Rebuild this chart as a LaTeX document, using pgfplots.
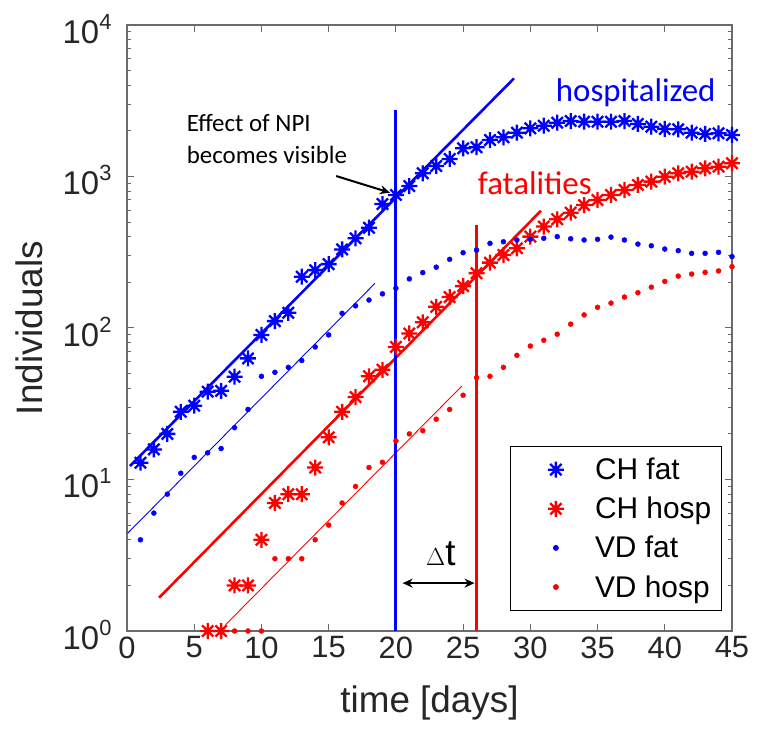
\documentclass[border=0pt]{standalone}
\usepackage{pgfplots}
\pgfplotsset{compat=1.18}
\usepackage{fontspec}
\setmainfont{Liberation Sans}
\newfontfamily\calfont{Carlito}
\usetikzlibrary{arrows.meta}
\definecolor{axgray}{gray}{0.42}
\definecolor{txtgray}{gray}{0.15}
\definecolor{mblue}{rgb}{0,0,1}
\definecolor{mred}{rgb}{1,0,0}
\pgfdeclareplotmark{mast}{%
 \pgfpathmoveto{\pgfqpoint{0pt}{\pgfplotmarksize}}\pgfpathlineto{\pgfqpoint{0pt}{-\pgfplotmarksize}}%
 \pgfpathmoveto{\pgfqpoint{\pgfplotmarksize}{0pt}}\pgfpathlineto{\pgfqpoint{-\pgfplotmarksize}{0pt}}%
 \pgfpathmoveto{\pgfqpoint{0.707\pgfplotmarksize}{0.707\pgfplotmarksize}}\pgfpathlineto{\pgfqpoint{-0.707\pgfplotmarksize}{-0.707\pgfplotmarksize}}%
 \pgfpathmoveto{\pgfqpoint{0.707\pgfplotmarksize}{-0.707\pgfplotmarksize}}\pgfpathlineto{\pgfqpoint{-0.707\pgfplotmarksize}{0.707\pgfplotmarksize}}%
 \pgfusepathqstroke}
\newcommand\tenpow[1]{10\raisebox{14bp}{\fontsize{22}{22}\selectfont #1}}
\pgfplotsset{myleg/.style={legend image code/.code={\path (0bp,0bp) (72bp,0bp);\draw[mark repeat=2,mark phase=2,##1] plot coordinates {(0bp,0bp)(36bp,0bp)(72bp,0bp)};}}}

\pgfplotstableread{
x y
1 12.9
2 15.8
3 20
4 28
5 30.7
6 38
7 38.5
8 47.7
9 63
10 90
11 111
12 126
13 218
14 241
15 264
16 330
17 391
18 459
19 658
20 755
21 865
22 1050
23 1173
24 1305
25 1535
26 1560
27 1741
28 1815
29 1946
30 2080
31 2163
32 2265
33 2324
34 2300
35 2300
36 2300
37 2324
38 2222
39 2133
40 2061
41 2049
42 1946
43 1909
44 1928
45 1879
}\chfat

\pgfplotstableread{
x y
6 1
7 1
8 2
9 2
10 4
11 7
12 8
13 8
14 12
15 19
16 28
17 35
18 48
19 53
20 75
21 92
22 109
23 138
24 160
25 189
26 230
27 270
28 303
29 336
30 401
31 467
32 522
33 577
34 648
35 700
36 755
37 815
38 879
39 925
40 997
41 1050
42 1076
43 1133
44 1161
45 1222
}\chhosp

\pgfplotstableread{
x y
1 4
2 6
3 8
4 11
5 14
6 15
7 16
8 22
9 29
10 48
11 51
12 55
13 61
14 75
15 90
16 125
17 140
18 153
19 168
20 183
21 211
22 232
23 252
24 284
25 314
26 327
27 362
28 371
29 381
30 385
31 391
32 401
33 388
34 381
35 385
36 398
37 381
38 358
39 349
40 332
41 324
42 311
43 311
44 316
45 296
}\vdfat

\pgfplotstableread{
x y
8 1
9 1
10 1
11 3
12 3
13 3
14 4
15 5
16 7
17 9
18 12
19 13
20 18
21 20
22 21
23 25
24 29
25 36
26 47
27 48
28 55
29 66
30 76
31 83
32 91
33 106
34 122
35 137
36 146
37 160
38 171
39 186
40 203
41 220
42 227
43 233
44 238
45 254
}\vdhosp

\begin{document}
\begin{tikzpicture}
\path[use as bounding box] (-127bp,-109bp) rectangle (630bp,631bp);
\begin{axis}[
  at={(0,0)}, anchor=south west,
  scale only axis, width=605bp, height=606bp,
  xmin=0, xmax=45, ymode=log, ymin=1, ymax=10000,
  xtick={0,5,...,45},
  ytick={1,10,100,1000,10000},
  yticklabels={\tenpow{0},\tenpow{1},\tenpow{2},\tenpow{3},\tenpow{4}},
  /pgf/number format/assume math mode=true,
  tick align=inside,
  major tick length=7bp, minor tick length=4bp,
  axis line style={axgray, line width=1.3bp},
  every tick/.style={axgray, line width=1bp},
  ticklabel style={font=\fontsize{31}{36}\selectfont, text=txtgray},
  xticklabel style={yshift=-2bp},
  yticklabel style={font=\fontsize{33}{36}\selectfont, xshift=-12bp, yshift=-4bp},
  xlabel={time [days]}, ylabel={Individuals},
  label style={font=\fontsize{37}{42}\selectfont, text=txtgray},
  xlabel style={at={(axis description cs:0.5,-0.118)}, anchor=center},
  ylabel style={at={(axis description cs:-0.162,0.5)}, anchor=center},
  clip=false,
  legend style={at={(0.983,0.033)}, anchor=south east,
    font=\fontsize{30}{36}\selectfont, draw=black, line width=0.8bp,
    inner xsep=8bp, inner ysep=10bp, row sep=12bp},
  legend cell align=left,
]
% fit lines and vertical markers
\addplot[mblue, line width=2.6bp, forget plot] coordinates {(0.22,12.27) (28.79,4446)};
\addplot[mblue, line width=0.9bp, forget plot] coordinates {(0.05,4.42) (18.44,197)};
\addplot[mred, line width=2.6bp, forget plot] coordinates {(2.39,1.66) (30.79,594)};
\addplot[mred, line width=0.9bp, forget plot] coordinates {(7.33,1.10) (24.91,41.4)};
\addplot[mblue, line width=2.8bp, forget plot] coordinates {(20,1) (20,2750)};
\addplot[mred, line width=2.8bp, forget plot] coordinates {(26,1) (26,478)};
% data
\addplot[only marks, mark=mast, mark size=8bp, mblue, line width=2.3bp, myleg] table {\chfat};
\addlegendentry{CH fat}
\addplot[only marks, mark=mast, mark size=8bp, mred, line width=2.3bp, myleg] table {\chhosp};
\addlegendentry{CH hosp}
\addplot[only marks, mark=*, mark size=2.5bp, mblue, myleg] table {\vdfat};
\addlegendentry{VD fat}
\addplot[only marks, mark=*, mark size=2.5bp, mred, myleg] table {\vdhosp};
\addlegendentry{VD hosp}
% annotations
\draw[line width=2bp, -{Stealth[length=10bp,width=9bp]}] (axis cs:15.56,1007) -- (axis cs:19.56,782);
\draw[line width=2bp, {Stealth[length=10bp,width=9bp]}-{Stealth[length=10bp,width=9bp]}] (axis cs:20.5,2.07) -- (axis cs:25.85,2.07);
\node[anchor=west, align=left, font=\calfont\fontsize{25}{32}\selectfont, inner sep=0pt] at (axis cs:4.44,1767) {Effect of NPI\\becomes visible};
\node[font=\calfont\fontsize{33}{40}\selectfont, text=mblue] at (axis cs:37.84,3557) {hospitalized};
\node[font=\calfont\fontsize{33}{40}\selectfont, text=mred] at (axis cs:30.33,906) {fatalities};
\node[font=\fontsize{37}{42}\selectfont] at (axis cs:23.35,3.22) {$\Delta$t};
\end{axis}
\end{tikzpicture}
\end{document}
